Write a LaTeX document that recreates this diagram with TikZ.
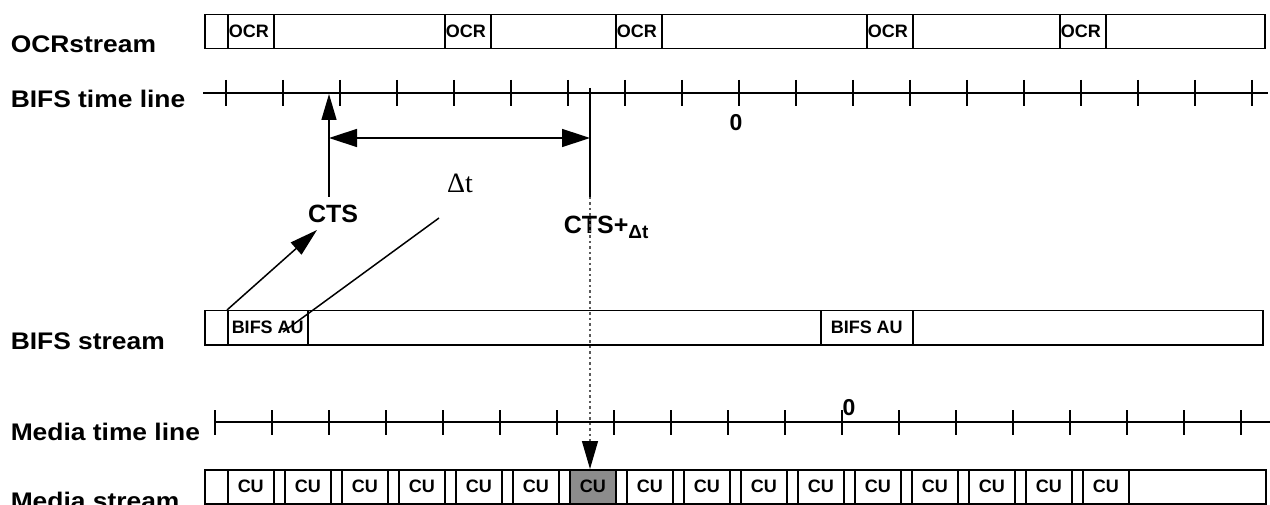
\documentclass[tikz,border=0pt]{standalone}
\usepackage{fontspec}
\setmainfont{Liberation Sans}
\newfontfamily\lblfont[FakeStretch=1.1]{Liberation Sans}
\newfontfamily\seriffont{Liberation Serif}
\usetikzlibrary{arrows.meta}
\definecolor{cugray}{RGB}{140,140,140}
\definecolor{dotgray}{RGB}{90,90,90}

\begin{document}
\begin{tikzpicture}[x=1pt,y=-1pt,
  line width=1.5pt,
  rowlabel/.style={anchor=base west, inner sep=0pt,
    font=\lblfont\bfseries\fontsize{24}{24}\selectfont},
  stream/.style={draw, line width=1.5pt, anchor=north west,
    minimum height=34pt, inner sep=0pt},
  cell/.style={draw, line width=1.5pt, anchor=north west,
    minimum height=34pt, inner ysep=0pt,
    font=\bfseries\fontsize{18}{18}\selectfont},
  ocrcell/.style={cell, text width=44pt, inner xsep=1pt, align=left},
  cucell/.style={cell, text width=46pt, inner xsep=0pt, align=center},
  aucell/.style={cell, inner xsep=0pt, align=center},
  axis/.style={line width=1.5pt},
  bignum/.style={inner sep=0pt, font=\bfseries\fontsize{23}{23}\selectfont},
  marker/.style={anchor=base, inner sep=0pt,
    font=\bfseries\fontsize{25}{25}\selectfont},
  tip/.style={-{Triangle[length=26pt,width=15pt]}},
]
\useasboundingbox (0,0) rectangle (1270,505);

% row labels
\node[rowlabel] (lblocr)  at (10,53)  {OCRstream};
\node[rowlabel] (lblbtl)  at (10,108) {BIFS time line};
\node[rowlabel] (lblbs)   at (10,349) {BIFS stream};
\node[rowlabel] (lblmtl)  at (10,440) {Media time line};
\node[rowlabel] (lblms)   at (10,509) {Media stream};

% OCR stream
\node[stream, minimum width=1060pt] (ocr) at (204,14) {};
\foreach \x/\n in {227/1,444/2,615/3,866/4,1059/5}
  \node[ocrcell] (ocr\n) at (\x,14) {OCR};

% BIFS time line
\coordinate (btA) at (203,93);
\coordinate (btB) at (1268,93);
\draw[axis] (btA) -- (btB);
\foreach \k in {0,...,18}
  \draw[axis] ({226+57*\k},80) -- ({226+57*\k},106);
\node[bignum] (zeroB) at (736,123) {0};

% CTS marker and the interval to CTS+dt
\coordinate (ctsTop) at (329,94);
\coordinate (ctsBot) at (329,197);
\coordinate (endTop) at (590,88);
\coordinate (endBot) at (590,197);
\draw[tip] (ctsBot) -- (ctsTop);
\draw (endTop) -- (endBot);
\coordinate (spanL) at (329,138);
\coordinate (spanR) at (590,138);
\draw[{Triangle[length=28pt,width=18pt]}-{Triangle[length=28pt,width=18pt]}]
  (spanL) -- (spanR);

\node[marker] (cts) at (333,223) {CTS};
\node[marker, anchor=base west] (ctsdt) at (563,234)
  {CTS+\raisebox{-5pt}{\fontsize{19}{19}\selectfont Δt}};
\node[anchor=base, inner sep=0pt, font=\seriffont\fontsize{28}{28}\selectfont]
  (dtlbl) at (460,193) {Δt};

% BIFS stream
\node[stream, minimum width=1058pt] (bifs) at (204,310) {};
\node[aucell, minimum width=80pt] (au1) at (227,310) {BIFS AU};
\node[aucell, minimum width=92pt] (au2) at (820,310) {BIFS AU};

% links from the first access unit
\coordinate (ctsIn) at (317,230);
\draw[-{Triangle[length=28pt,width=16pt]}] (au1.north west) -- (ctsIn);
\coordinate (dtFrom) at (439,218);
\coordinate (dtTo) at (283,332);
\draw (dtFrom) -- (dtTo);

% Media time line
\coordinate (mtA) at (215,422);
\coordinate (mtB) at (1270,422);
\draw[axis] (mtA) -- (mtB);
\foreach \k in {0,...,18}
  \draw[axis] ({215+57*\k},410) -- ({215+57*\k},435);
\node[bignum] (zeroM) at (849,408) {0};

% Media stream with composition units
\node[stream, minimum width=1061pt] (media) at (204,469) {};
\foreach \k in {0,...,15}{
  \ifnum\k=6
    \node[cucell, fill=cugray] (cu\k) at ({227+57*\k},469) {CU};
  \else
    \node[cucell] (cu\k) at ({227+57*\k},469) {CU};
  \fi
}

% projection of CTS+dt onto the media stream
\draw[dotgray, line width=1.2pt, dash pattern=on 2.5pt off 3pt,
      -{Triangle[length=28pt,width=16pt,black]}]
  (endBot) -- (endBot |- cu6.north);
\end{tikzpicture}
\end{document}
